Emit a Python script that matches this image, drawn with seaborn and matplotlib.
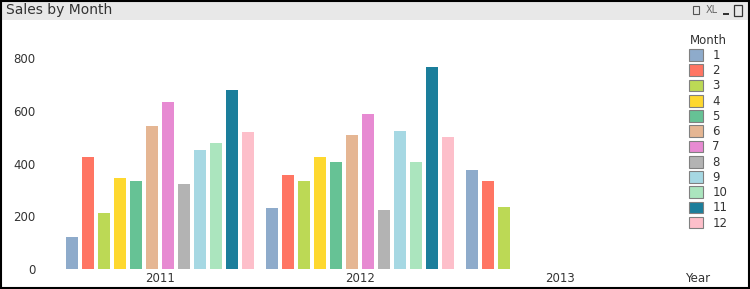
import matplotlib
matplotlib.use("Agg")
import matplotlib.pyplot as plt
from matplotlib.patches import Patch, Rectangle
import seaborn as sns
import pandas as pd

years = ["2011", "2012", "2013"]
months = [str(m) for m in range(1, 13)]
sales_2011 = [122, 425, 213, 347, 334, 543, 634, 323, 452, 478, 680, 520]
sales_2012 = [232, 357, 334, 425, 406, 509, 589, 224, 524, 406, 767, 501]
sales_2013 = [376, 334, 236]
month_colors = ["#8eabcb", "#ff7563", "#bcd955", "#fed82f", "#66c295", "#e5b693",
                "#e78ad2", "#b3b3b3", "#a6d8e3", "#abe5be", "#1b7e9b", "#fdbfca"]

rows = []
for y, vals in zip(years, [sales_2011, sales_2012, sales_2013]):
    for m, v in zip(months, vals):
        rows.append({"Year": y, "Month": m, "Sales": v})
df = pd.DataFrame(rows)
palette = dict(zip(months, month_colors))

sns.set_style("white")
plt.rcParams['font.family'] = ['DejaVu Sans']

fig = plt.figure(figsize=(7.5, 2.89), dpi=100)
ax = fig.add_axes([48/750, 20/289, 624/750, 232/289])
sns.barplot(data=df, x="Year", y="Sales", hue="Month", order=years, hue_order=months,
            palette=palette, width=0.96, gap=0.25, saturation=1, ax=ax,
            legend=False, errorbar=None, linewidth=0, edgecolor="none")
ax.set_xlim(-0.56, 2.56)
ax.set_ylim(0, 880)
ax.set_yticks([0, 200, 400, 600, 800])
for s in ax.spines.values():
    s.set_visible(False)
ax.tick_params(axis="y", length=2, width=1, color="#c8c8c8", pad=7,
               labelsize=8.5, labelcolor="#333333")
ax.tick_params(axis="x", length=0, pad=2, labelsize=8.5, labelcolor="#333333")
ax.set_xlabel("")
ax.set_ylabel("")
fig.text(685/750, 1 - 279/289, "Year", ha="left", va="center", fontsize=8.5, color="#333333")

# legend
handles = [Patch(facecolor=c, edgecolor="#808080", linewidth=0.8, label=m)
           for m, c in zip(months, month_colors)]
leg = fig.legend(handles=handles, title="Month", loc="upper left",
                 bbox_to_anchor=(684/750, 1 - 29/289), frameon=False,
                 fontsize=8.5, title_fontsize=8.5, handlelength=1.25, handleheight=1.15,
                 handletextpad=0.75, labelspacing=0.19, borderaxespad=0)
for t in leg.get_texts():
    t.set_color("#333333")
leg.get_title().set_color("#333333")

# title bar
fig.patches.append(Rectangle((0, 1 - 20/289), 1, 20/289, transform=fig.transFigure,
                             facecolor="#e8e8e8", edgecolor="none", zorder=0))
fig.text(6/750, 1 - 10/289, "Sales by Month", ha="left", va="center", fontsize=10,
         color="#333333", family=["Liberation Sans Narrow", "DejaVu Sans"])
fig.text(712/750, 1 - 10/289, "XL", ha="center", va="center", fontsize=7, color="#666666",
         family=["Liberation Sans Narrow", "DejaVu Sans"])
fig.patches.append(Rectangle((693/750, 1 - 14/289), 6/750, 8/289, transform=fig.transFigure,
                             facecolor="none", edgecolor="#555555", linewidth=0.8))
fig.patches.append(Rectangle((723/750, 1 - 15/289), 6/750, 2/289, transform=fig.transFigure,
                             facecolor="#333333", edgecolor="none"))
fig.patches.append(Rectangle((734/750, 1 - 16/289), 8/750, 11/289, transform=fig.transFigure,
                             facecolor="none", edgecolor="#333333", linewidth=0.9))
# border
fig.patches.append(Rectangle((0.001, 0.002), 0.997, 0.996, transform=fig.transFigure,
                             facecolor="none", edgecolor="black", linewidth=1.5))

fig.savefig("out.png", dpi=100)
